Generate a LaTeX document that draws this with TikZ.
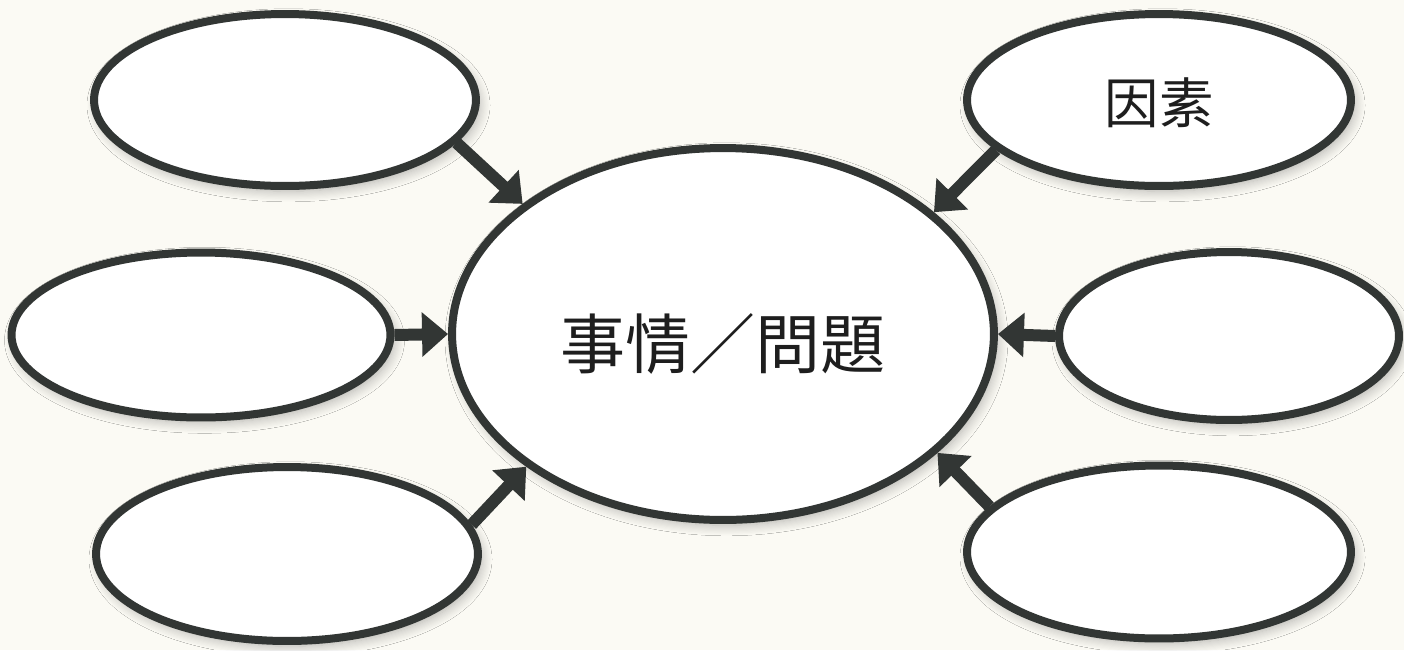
\documentclass[tikz,border=0pt]{standalone}
\usepackage{fontspec}
\newfontfamily\cjk{Noto Sans CJK TC}
\usetikzlibrary{shapes.geometric,arrows.meta,shadows.blur}
\definecolor{ink}{RGB}{50,54,52}
\definecolor{txt}{RGB}{30,30,30}
\definecolor{paper}{RGB}{251,250,244}
\tikzset{
  bubble/.style={ellipse, draw=ink, line width=0.16cm, fill=white, inner sep=0pt,
    blur shadow={shadow xshift=2pt, shadow yshift=-3pt, shadow opacity=30, shadow blur steps=10, shadow blur radius=6pt}},
  feed/.style={draw=ink, line width=0.24cm, -{Triangle[length=0.52cm,width=0.86cm]}, fill=ink}
}
\begin{document}
\begin{tikzpicture}[x=0.02cm,y=-0.02cm]
\fill[paper] (0,0) rectangle (1404,650);
\useasboundingbox (0,0) rectangle (1404,650);
\node[bubble, text=txt, minimum width=10.84cm, minimum height=7.44cm, font=\cjk\fontsize{37}{37}\selectfont] (c) at (723,334) {\raisebox{-0.2cm}[\height][\depth]{事情／問題}};
\node[bubble, minimum width=7.64cm, minimum height=3.44cm] (tl) at (285,100) {};
\node[bubble, minimum width=7.58cm, minimum height=3.30cm] (ml) at (201,335) {};
\node[bubble, minimum width=7.64cm, minimum height=3.48cm] (bl) at (287,554) {};
\node[bubble, text=txt, minimum width=7.68cm, minimum height=3.44cm, font=\cjk\fontsize{31}{31}\selectfont] (tr) at (1159,100) {\raisebox{-0.05cm}[\height][\depth]{因素}};
\node[bubble, minimum width=6.80cm, minimum height=3.36cm] (mr) at (1229,336) {};
\node[bubble, minimum width=7.68cm, minimum height=3.46cm] (br) at (1159,552) {};
\draw[feed] (tl.-14) -- (c.147);
\draw[feed] (ml.east) -- (c.west);
\draw[feed] (bl.9.6) -- (c.-146.5);
\draw[feed] (tr.197) -- (c.30.3);
\draw[feed] (mr.west) -- (c.east);
\draw[feed] (br.165.4) -- (c.-29.4);
\end{tikzpicture}
\end{document}
